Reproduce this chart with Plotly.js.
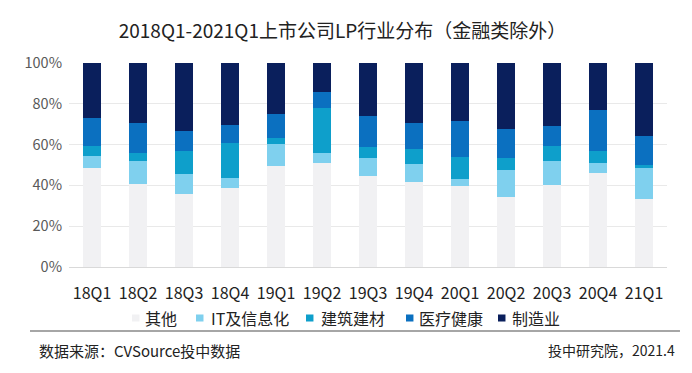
<!DOCTYPE html>
<html><head><meta charset="utf-8">
<script src="https://cdn.plot.ly/plotly-3.0.1.min.js"></script>
<style>html,body{margin:0;padding:0;background:#fff}#chart{width:692px;height:373px}</style>
</head><body><div id="chart"></div>
<script>
const categories = ["18Q1","18Q2","18Q3","18Q4","19Q1","19Q2","19Q3","19Q4","20Q1","20Q2","20Q3","20Q4","21Q1"];
const other    = [48.4, 40.5, 35.7, 38.5, 49.3, 51.1, 44.8, 41.8, 39.8, 34.4, 40.2, 46.2, 33.3];
const itInfo   = [ 6.0, 11.6, 10.0,  5.3, 11.0,  4.8,  8.6,  8.9,  3.3, 13.3, 11.9,  4.6, 15.4];
const building = [ 4.9,  3.6, 11.2, 17.0,  2.7, 22.1,  5.5,  7.2, 11.0,  5.7,  7.1,  6.1,  1.3];
const medical  = [13.7, 15.0,  9.8,  8.7, 11.9,  7.7, 14.9, 12.8, 17.5, 14.3, 10.0, 20.1, 14.3];
const manufact = [27.0, 29.3, 33.3, 30.5, 25.1, 14.3, 26.2, 29.3, 28.4, 32.3, 30.8, 23.0, 35.7];
const seriesNames = ["其他","IT及信息化","建筑建材","医疗健康","制造业"];
const yTickVals = [0,20,40,60,80,100];
const yTickText = ["0%","20%","40%","60%","80%","100%"];

const colors = ["#f1f1f3","#7fd0ee","#0e9fcb","#0b70c0","#0a1f5c"];
const allSeries = [other, itInfo, building, medical, manufact];
const font = "'Noto Sans CJK SC', 'Noto Sans', sans-serif";

const traces = allSeries.map((vals, i) => ({
  type: "bar", name: seriesNames[i], x: categories, y: vals,
  marker: {color: colors[i], line: {width: 0}},
  hoverinfo: "x+y+name", showlegend: false
}));

// legend built as small squares + labels below the plot (paper coordinates)
const legendSquareX = [0.1054, 0.2124, 0.3963, 0.5635, 0.7174];
const legendTextX   = [0.1237, 0.2341, 0.4180, 0.5820, 0.7375];
const shapes = [{type: "line", xref: "paper", yref: "paper", x0: -0.0652, x1: 1.0217, y0: -0.3137, y1: -0.3137,
                 line: {color: "#a6a6a6", width: 2}}];
const annotations = [
  {text: "数据来源：CVSource投中数据", xref: "paper", yref: "paper", x: -0.0535, y: -0.407, xanchor: "left", yanchor: "middle",
   showarrow: false, font: {size: 15, color: "#222", family: font}},
  {text: "投中研究院，2021.4", xref: "paper", yref: "paper", x: 1.0167, y: -0.407, xanchor: "right", yanchor: "middle",
   showarrow: false, font: {size: 14, color: "#222", family: font}}
];
seriesNames.forEach((n, i) => {
  shapes.push({type: "rect", xref: "paper", yref: "paper", x0: legendSquareX[i], x1: legendSquareX[i] + 0.0125,
               y0: -0.2328, y1: -0.2672, fillcolor: colors[i], line: {width: 0}});
  annotations.push({text: n, xref: "paper", yref: "paper", x: legendTextX[i], y: -0.25, xanchor: "left", yanchor: "middle",
                    showarrow: false, font: {size: 16, color: "#222", family: font}});
});

const layout = {
  width: 692, height: 373,
  margin: {l: 69, r: 25, t: 63, b: 106, autoexpand: false},
  barmode: "stack", bargap: 0.6,
  paper_bgcolor: "#fff", plot_bgcolor: "#fff",
  font: {family: font, color: "#222"},
  showlegend: false,
  title: {text: "2018Q1-2021Q1上市公司LP行业分布（金融类除外）", x: 0.495, xanchor: "center", y: 0.915, yanchor: "middle",
          font: {size: 19, color: "#222", family: font}},
  xaxis: {type: "category", tickfont: {size: 16, color: "#222", family: font}, showline: true, linecolor: "#d9d9d9", linewidth: 1,
          ticks: "", showgrid: false, fixedrange: true, ticklabelstandoff: 12},
  yaxis: {range: [0, 100], tickvals: yTickVals, ticktext: yTickText, tickfont: {size: 14.5, color: "#595959", family: font},
          showgrid: true, gridcolor: "#e9e9e9", gridwidth: 1, zeroline: false, ticks: "", ticklen: 0, ticklabelstandoff: 6},
  shapes: shapes,
  annotations: annotations
};
Plotly.newPlot("chart", traces, layout, {displayModeBar: false});
</script></body></html>
